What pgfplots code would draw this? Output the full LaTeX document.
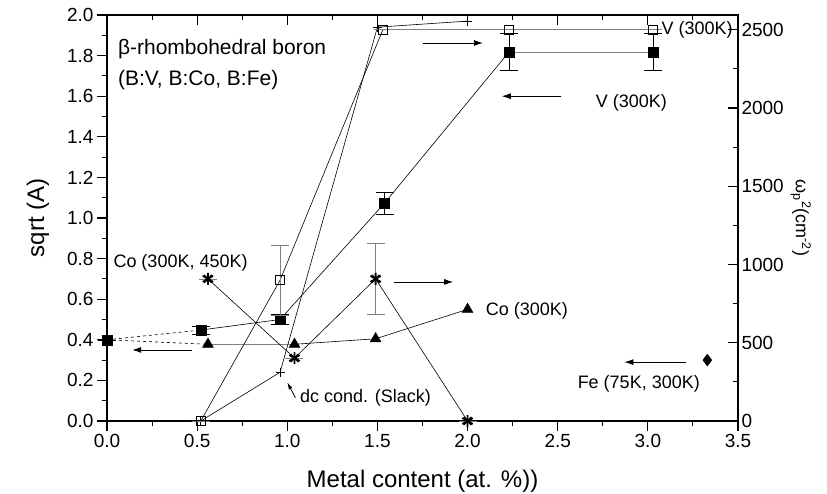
\documentclass[border=0pt]{standalone}
\usepackage{fontspec}
\setmainfont{Liberation Sans}
\usepackage{pgfplots}
\pgfplotsset{compat=1.18}
\usetikzlibrary{arrows.meta}

\pgfplotsset{
  base/.style={
    scale only axis, width=631pt, height=406pt,
    xmin=0, xmax=3.5, clip=false,
    xtick={0,0.5,1,1.5,2,2.5,3,3.5}, minor x tick num=1,
    major tick length=10pt, minor tick length=5pt,
    axis line style={line width=1.5pt},
    every tick/.style={black, line width=1.1pt},
    tick label style={font=\fontsize{19}{21}\selectfont},
    label style={font=\fontsize{24}{28}\selectfont},
  },
  dat/.style={black, line width=0.6pt},
  grayline/.style={gray, line width=0.8pt},
  ebar/.style={error bars/.cd, y dir=both, y explicit,
    error bar style={line width=0.6pt, #1},
    error mark options={rotate=90, mark size=9pt, line width=0.6pt}},
  ebar/.default=black,
}
\tikzset{arr/.style={-{Latex[length=9pt,width=6pt]}, line width=0.8pt},
  ann/.style={anchor=west, inner sep=0pt, font=\fontsize{18}{21}\selectfont}}

\begin{document}
\begin{tikzpicture}
\path[use as bounding box] (-107pt,-72pt) rectangle (720pt,421pt);

% left axis: sqrt(A)
\begin{axis}[base,
  ymin=0, ymax=2.0,
  ytick={0,0.2,0.4,0.6,0.8,1.0,1.2,1.4,1.6,1.8,2.0}, minor y tick num=1,
  xtick pos=bottom, ytick pos=left, tick align=outside,
  xticklabel style={/pgf/number format/.cd, fixed, fixed zerofill, precision=1, assume math mode=true},
  yticklabel style={/pgf/number format/.cd, fixed, fixed zerofill, precision=1, assume math mode=true},
  xlabel={Metal content (at. \%))},
  ylabel={sqrt (A)},
  xlabel style={yshift=-15pt},
  ylabel style={yshift=11pt},
]
% dashed start segments
\addplot[dat, dashed] coordinates {(0,0.40) (0.52,0.448)};
\addplot[dat, dashed] coordinates {(0,0.40) (0.56,0.378)};
% V, sqrt(A)
\addplot[dat] coordinates {(0.52,0.448) (0.96,0.50) (1.54,1.074) (2.23,1.818)};
\addplot[grayline] coordinates {(2.23,1.818) (3.03,1.818)};
\addplot[black, only marks, mark=square*, mark size=5pt, ebar] coordinates {
  (0,0.40) +- (0,0)
  (0.52,0.448) +- (0,0.02)
  (0.96,0.50) +- (0,0.025)
  (1.54,1.074) +- (0,0.055)
  (2.23,1.818) +- (0,0.09)
  (3.03,1.818) +- (0,0.09)
};
% Co (300K), sqrt(A)
\addplot[grayline] coordinates {(0.56,0.378) (1.04,0.378)};
\addplot[dat] coordinates {(1.04,0.378) (1.49,0.405) (2.0,0.55)};
\addplot[black, only marks, mark=triangle*, mark size=6.3pt] coordinates {
  (0.56,0.378) (1.04,0.378) (1.49,0.405) (2.0,0.55)
};
% dc conductivity (Slack)
\addplot[dat, mark=+, mark size=4.5pt, mark options={line width=0.7pt}] coordinates {
  (0.52,0) (0.96,0.24) (1.50,1.94) (2.0,1.97)
};
% Fe
\addplot[black, only marks, mark=diamond*, mark size=6pt] coordinates {(3.33,0.30)};

% annotations
\node[anchor=west, inner sep=0pt, font=\fontsize{21}{25}\selectfont] at (axis cs:0.06,1.83) {β-rhombohedral boron};
\node[anchor=west, inner sep=0pt, font=\fontsize{21}{25}\selectfont] at (axis cs:0.06,1.68) {(B:V, B:Co, B:Fe)};
\node[ann] at (axis cs:3.075,1.925) {V (300K)};
\node[ann] at (axis cs:2.71,1.565) {V (300K)};
\node[ann] at (axis cs:0.035,0.78) {Co (300K, 450K)};
\node[ann] at (axis cs:2.10,0.545) {Co (300K)};
\node[ann] at (axis cs:2.61,0.185) {Fe (75K, 300K)};
\node[ann] at (axis cs:1.07,0.113) {dc cond. (Slack)};
\draw[arr] (axis cs:0.47,0.35) -- (axis cs:0.14,0.35);
\draw[arr] (axis cs:1.75,1.862) -- (axis cs:2.085,1.862);
\draw[arr] (axis cs:2.52,1.60) -- (axis cs:2.19,1.60);
\draw[arr] (axis cs:1.59,0.685) -- (axis cs:1.92,0.685);
\draw[arr] (axis cs:3.21,0.29) -- (axis cs:2.87,0.29);
\draw[-{Latex[length=7pt,width=4pt]}, line width=0.8pt] (axis cs:1.045,0.115) -- (axis cs:1.0,0.19);
\end{axis}

% right axis: omega_p^2
\begin{axis}[base,
  ymin=0, ymax=2594,
  ytick={0,500,1000,1500,2000,2500}, minor y tick num=1,
  xtick pos=top, ytick pos=right, tick align=inside,
  xticklabels={},
  yticklabel style={/pgf/number format/.cd, 1000 sep={}, assume math mode=true},
  ylabel={ω\textsubscript{p}\textsuperscript{2}(cm\textsuperscript{-2})},
  ylabel style={rotate=180, font=\fontsize{18}{21}\selectfont},
]
% V, omega_p^2
\addplot[dat] coordinates {(0.52,0) (0.96,900) (1.53,2500)};
\addplot[grayline] coordinates {(1.53,2500) (2.23,2500) (3.03,2500)};
\addplot[black, only marks, mark=square, mark size=4.5pt, mark options={fill=white, line width=0.7pt},
  ebar=gray] coordinates {
  (0.52,0) +- (0,0)
  (0.96,900) +- (0,225)
  (1.53,2500) +- (0,0)
  (2.23,2500) +- (0,0)
  (3.03,2500) +- (0,0)
};
% Co (300K, 450K), omega_p^2
\addplot[dat] coordinates {(0.56,908) (1.04,402) (1.49,908) (2.0,0)};
\addplot[black, only marks, mark=asterisk, mark size=6pt, mark options={line width=1.8pt},
  ebar=gray] coordinates {
  (0.56,908) +- (0,0)
  (1.04,402) +- (0,0)
  (1.49,908) +- (0,225)
  (2.0,0) +- (0,0)
};
\addplot[black, only marks, mark=x, mark size=5.5pt, mark options={line width=1.6pt}] coordinates {
  (0.56,908) (1.04,402) (1.49,908) (2.0,0)
};
\end{axis}
\end{tikzpicture}
\end{document}
